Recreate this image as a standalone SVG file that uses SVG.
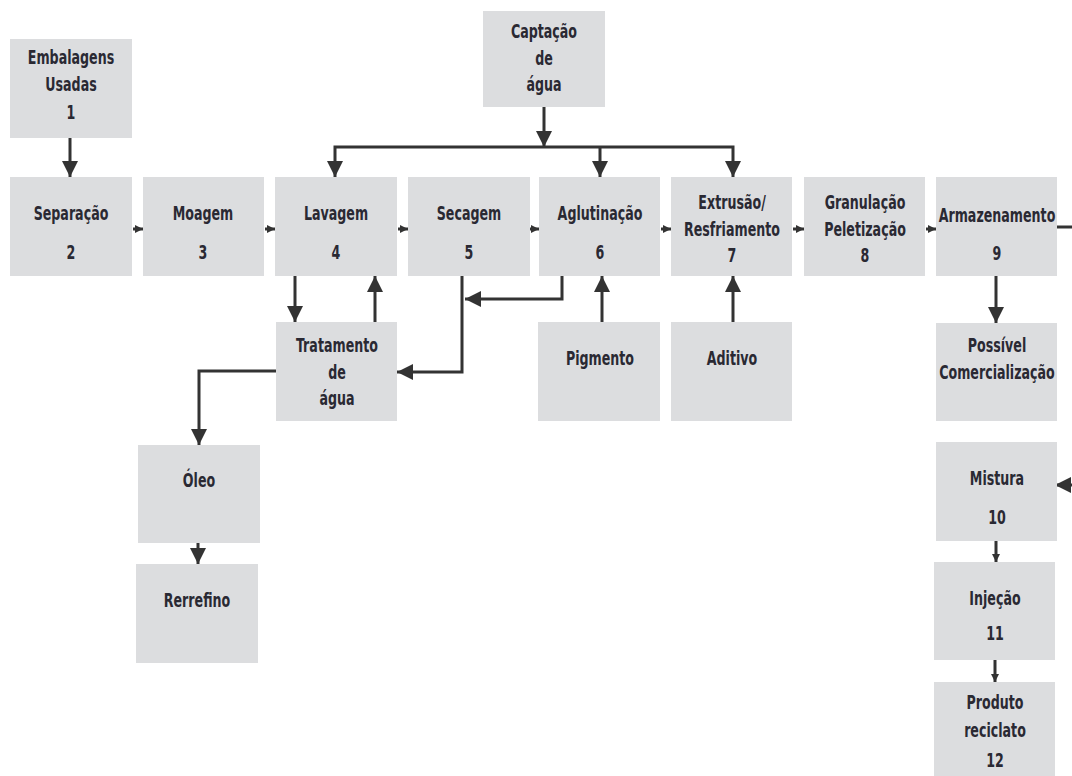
<svg xmlns="http://www.w3.org/2000/svg" width="1072" height="776" viewBox="0 0 1072 776">
<style>
.box{fill:#dcdddf}
.t{font-family:"DejaVu Sans Condensed","Liberation Sans Narrow","Liberation Sans",sans-serif;font-weight:bold;font-size:19px;fill:#2a2933;text-anchor:middle;transform-box:fill-box;transform-origin:center;transform:scaleX(0.74)}
.c{fill:none;stroke:#333333;stroke-width:3}
.cb{marker-end:url(#big)}
.cs{marker-end:url(#small)}
</style>
<defs>
<marker id="big" markerUnits="userSpaceOnUse" viewBox="0 0 10 10" refX="10" refY="5" markerWidth="17" markerHeight="16" orient="auto"><path d="M0,0 L10,5 L0,10 z" fill="#333333"/></marker>
<marker id="small" markerUnits="userSpaceOnUse" viewBox="0 0 10 10" refX="10" refY="5" markerWidth="9" markerHeight="8" orient="auto"><path d="M0,0 L10,5 L0,10 z" fill="#333333"/></marker>
</defs>
<rect width="1072" height="776" fill="#ffffff"/>
<g id="connectors">
<path class="c cb" d="M70,138 V177"/>
<path class="c cb" d="M544,107 V147"/>
<path class="c cb" d="M544,147 H335 V177"/>
<path class="c cb" d="M544,147 H733 V177"/>
<path class="c cb" d="M600,147 V177"/>
<path class="c cs" d="M133,229 H143"/>
<path class="c cs" d="M265,229 H275"/>
<path class="c cs" d="M398,229 H408"/>
<path class="c cs" d="M530,229 H539"/>
<path class="c cs" d="M661,229 H671"/>
<path class="c cs" d="M793,229 H804"/>
<path class="c cs" d="M926,229 H936"/>
<path class="c cb" d="M295,276 V322"/>
<path class="c cb" d="M375,322 V276"/>
<path class="c cb" d="M462,276 V372 H397"/>
<path class="c cb" d="M562,276 V299 H465"/>
<path class="c cb" d="M276,371 H199 V445"/>
<path class="c cb" d="M198,543 V564"/>
<path class="c cb" d="M602,322 V276"/>
<path class="c cb" d="M733,322 V276"/>
<path class="c cb" d="M996,276 V323"/>
<path class="c" d="M1057,227 H1075"/>
<path class="c cb" d="M1075,485 H1055"/>
<path class="c cs" d="M996,541 V562"/>
<path class="c cs" d="M995,660 V682"/>
</g>
<g id="n1"><rect class="box" x="10" y="39" width="122" height="99"/><text class="t" x="71" y="64">Embalagens</text><text class="t" x="71" y="91">Usadas</text><text class="t" x="71" y="119">1</text></g>
<g id="n_captacao"><rect class="box" x="483" y="11" width="122" height="96"/><text class="t" x="544" y="38">Captação</text><text class="t" x="544" y="65">de</text><text class="t" x="544" y="91">água</text></g>
<g id="n2"><rect class="box" x="10" y="177" width="122" height="99"/><text class="t" x="71" y="220">Separação</text><text class="t" x="71" y="259">2</text></g>
<g id="n3"><rect class="box" x="143" y="177" width="121" height="99"/><text class="t" x="203" y="220">Moagem</text><text class="t" x="203" y="259">3</text></g>
<g id="n4"><rect class="box" x="275" y="177" width="122" height="99"/><text class="t" x="336" y="220">Lavagem</text><text class="t" x="336" y="259">4</text></g>
<g id="n5"><rect class="box" x="408" y="177" width="122" height="99"/><text class="t" x="469" y="220">Secagem</text><text class="t" x="469" y="259">5</text></g>
<g id="n6"><rect class="box" x="539" y="177" width="121" height="99"/><text class="t" x="600" y="220">Aglutinação</text><text class="t" x="600" y="259">6</text></g>
<g id="n7"><rect class="box" x="671" y="177" width="121" height="99"/><text class="t" x="732" y="209">Extrusão/</text><text class="t" x="732" y="236">Resfriamento</text><text class="t" x="732" y="262">7</text></g>
<g id="n8"><rect class="box" x="804" y="177" width="121" height="99"/><text class="t" x="865" y="209">Granulação</text><text class="t" x="865" y="236">Peletização</text><text class="t" x="865" y="262">8</text></g>
<g id="n9"><rect class="box" x="936" y="177" width="121" height="99"/><text class="t" x="997" y="222">Armazenamento</text><text class="t" x="997" y="260">9</text></g>
<g id="n_tratamento"><rect class="box" x="276" y="322" width="121" height="99"/><text class="t" x="337" y="352">Tratamento</text><text class="t" x="337" y="379">de</text><text class="t" x="337" y="405">água</text></g>
<g id="n_pigmento"><rect class="box" x="538" y="322" width="122" height="99"/><text class="t" x="600" y="365">Pigmento</text></g>
<g id="n_aditivo"><rect class="box" x="671" y="322" width="121" height="99"/><text class="t" x="732" y="365">Aditivo</text></g>
<g id="n_possivel"><rect class="box" x="936" y="323" width="121" height="98"/><text class="t" x="997" y="352">Possível</text><text class="t" x="997" y="379">Comercialização</text></g>
<g id="n_oleo"><rect class="box" x="138" y="445" width="122" height="98"/><text class="t" x="199" y="487">Óleo</text></g>
<g id="n_rerrefino"><rect class="box" x="136" y="564" width="122" height="99"/><text class="t" x="197" y="607">Rerrefino</text></g>
<g id="n10"><rect class="box" x="936" y="442" width="121" height="99"/><text class="t" x="997" y="485">Mistura</text><text class="t" x="997" y="524">10</text></g>
<g id="n11"><rect class="box" x="934" y="562" width="121" height="98"/><text class="t" x="995" y="605">Injeção</text><text class="t" x="995" y="640">11</text></g>
<g id="n12"><rect class="box" x="934" y="682" width="121" height="100"/><text class="t" x="995" y="709">Produto</text><text class="t" x="995" y="737">reciclato</text><text class="t" x="995" y="767">12</text></g>
</svg>
